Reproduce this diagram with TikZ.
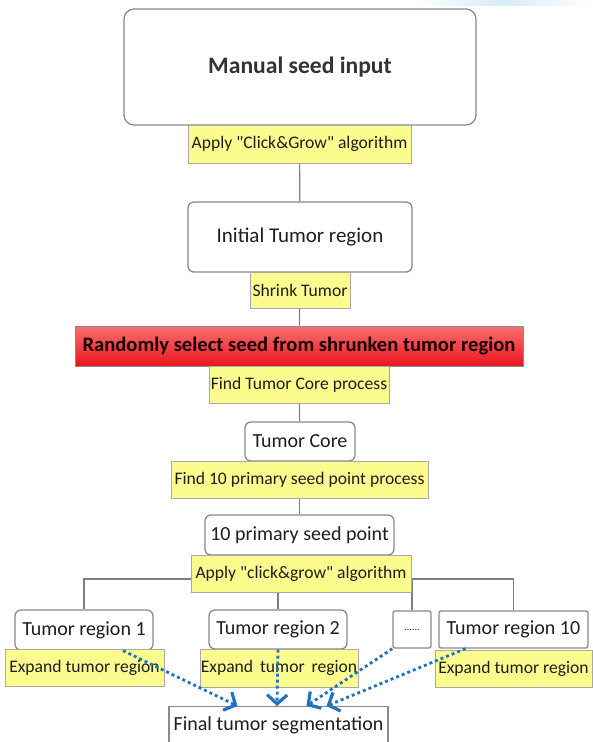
\documentclass[tikz,border=0pt]{standalone}
\usepackage{fontspec}
\setmainfont{Carlito}
\newfontfamily\plainquote{Carlito}
\usetikzlibrary{arrows.meta,backgrounds}

\definecolor{boxgray}{HTML}{8A8A8A}
\definecolor{labelgray}{HTML}{A8A8A8}
\definecolor{labelyellow}{HTML}{FBFB8E}
\definecolor{linegray}{HTML}{7F7F7F}
\definecolor{flowblue}{HTML}{2272C3}
\definecolor{textdark}{HTML}{1E1E1E}
\definecolor{redtop}{HTML}{F87070}
\definecolor{redbot}{HTML}{EC1420}
\definecolor{glowblue}{HTML}{D6ECF8}

\newcommand{\qmark}{{\plainquote"}}

\tikzset{
  box/.style={draw=boxgray, line width=1.3pt, rounded corners=6pt, fill=white,
    text=textdark, inner sep=0pt, font=\fontsize{20}{22}\selectfont},
  label/.style={draw=labelgray, line width=0.8pt, fill=labelyellow,
    text=textdark, inner sep=0pt, font=\fontsize{17.6}{20}\selectfont},
  link/.style={draw=linegray, line width=1.2pt},
  flow/.style={draw=flowblue, line width=2.8pt, dash pattern=on 3pt off 3pt,
    -{Straight Barb[length=9pt,width=20pt,line width=3.2pt]}}
}

\begin{document}
\begin{tikzpicture}[x=1pt, y=-1pt]
    \useasboundingbox (0,0) rectangle (592,742);
    \shade[left color=white, right color=white, middle color=glowblue] (413,0) rectangle (592,5);

    % main column
    \node[box, rounded corners=10pt, minimum width=352pt, minimum height=116pt,
      text=black!80, font=\fontsize{23.6}{26}\selectfont\bfseries] (manual) at (300,67) {Manual seed input};
    \node[label, minimum width=223pt, minimum height=38pt] (apply1) at (299.5,144) {Apply \qmark Click\&Grow\qmark{} algorithm};
    \node[box, minimum width=224pt, minimum height=70pt, font=\fontsize{21}{23}\selectfont] (initial) at (300,237) {Initial Tumor region};
    \node[label, minimum width=100pt, minimum height=36pt] (shrink) at (300,290) {Shrink Tumor};
    \node[draw=boxgray, line width=0.8pt, top color=redtop, bottom color=redbot, inner sep=0pt,
      minimum width=448pt, minimum height=40pt, text=black!90!red,
      font=\fontsize{20.6}{23}\selectfont\bfseries] (random) at (299,346) {Randomly select seed from shrunken tumor region};
    \node[label, minimum width=180pt, minimum height=37pt] (findcore) at (299,384.5) {Find Tumor Core process};
    \node[box, minimum width=110pt, minimum height=39pt] (core) at (300,441.5) {Tumor Core};
    \node[label, minimum width=257pt, minimum height=37pt] (find10) at (299.5,479.5) {Find 10 primary seed point process};
    \node[box, minimum width=189pt, minimum height=40pt] (primary) at (299.5,535) {10 primary seed point};
    \node[label, minimum width=220pt, minimum height=37pt] (apply2) at (301,573.5) {Apply \qmark click\&grow\qmark{} algorithm};

    % tumor regions
    \node[box, minimum width=138pt, minimum height=40pt] (tr1) at (84,630) {Tumor region 1};
    \node[box, minimum width=138pt, minimum height=39pt] (tr2) at (278,629.5) {Tumor region 2};
    \node[box, rounded corners=2pt, minimum width=38pt, minimum height=37pt, font=\fontsize{10}{12}\selectfont] (dots) at (412,629.5) {......};
    \node[box, rounded corners=2pt, minimum width=149pt, minimum height=37pt] (tr10) at (513.5,629.5) {Tumor region 10};
    \node[label, minimum width=159pt, minimum height=37pt] (exp1) at (84.5,668) {Expand tumor region};
    \node[label, minimum width=158pt, minimum height=38pt] (exp2) at (279,668) {Expand\, tumor\, region};
    \node[label, minimum width=157pt, minimum height=37pt] (exp10) at (513.5,668.5) {Expand tumor region};
    \node[box, rounded corners=0pt, anchor=north, minimum width=219pt, minimum height=38pt] (final) at (278.5,706) {Final tumor segmentation};

    % connectors
    \coordinate (fork) at (301,579);
    \begin{scope}[on background layer]
        \draw[link] (apply1) -- (initial);
        \draw[link] (shrink) -- (random);
        \draw[link] (findcore) -- (core);
        \draw[link] (find10) -- (primary);
        \draw[link] (tr1.north) |- (fork) -| (tr10.north);
        \draw[link] (tr2.north) |- (fork);
        \draw[link] (dots.north) |- (fork);
    \end{scope}

    % merge into final segmentation
    \draw[flow] ([xshift=39pt]tr1.south) -- ([xshift=-41pt]final.north);
    \draw[flow] (tr2.south) -- ([xshift=-1.5pt]final.north);
    \draw[flow] (dots.south west) -- ([xshift=28pt]final.north);
    \draw[flow] ([xshift=-48pt]tr10.south) -- ([xshift=48pt]final.north);
\end{tikzpicture}
\end{document}
